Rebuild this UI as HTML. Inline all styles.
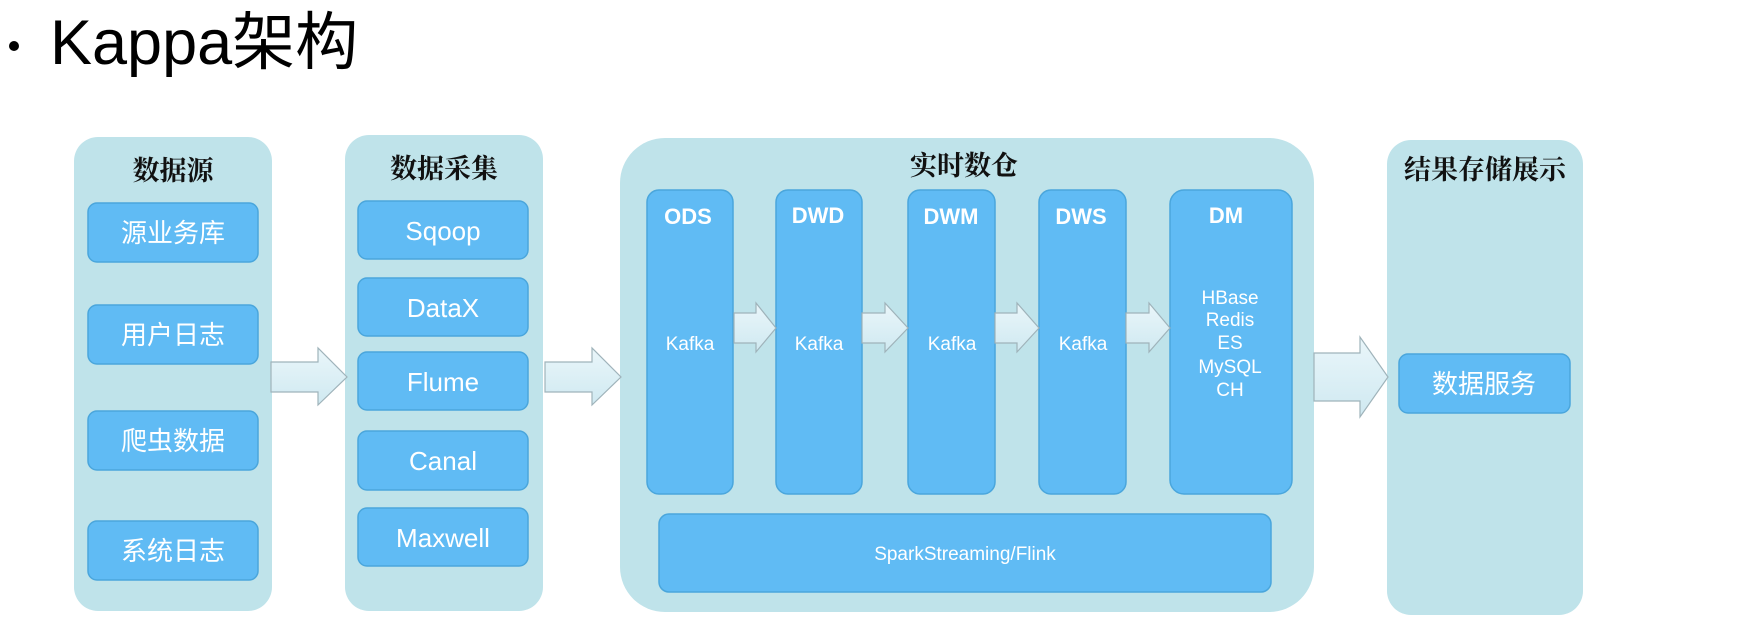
<!DOCTYPE html>
<html><head><meta charset="utf-8"><style>
html,body{margin:0;padding:0;background:#fff;width:1762px;height:624px;overflow:hidden}
svg text{font-family:"Liberation Sans","Noto Sans CJK SC",sans-serif}
.t{font-family:"Noto Serif CJK SC","Liberation Serif",serif;font-weight:bold;fill:#111}
.w{fill:#fff}
</style></head><body>
<svg width="1762" height="624" viewBox="0 0 1762 624" xmlns="http://www.w3.org/2000/svg">
<defs>
<linearGradient id="ar" x1="0" y1="0" x2="0" y2="1"><stop offset="0" stop-color="#eaf6fa"/><stop offset="1" stop-color="#cfe9f1"/></linearGradient>
</defs>
<circle cx="14" cy="46" r="5" fill="#000"/>
<text x="50" y="64" font-size="63" fill="#000">Kappa架构</text>

<rect x="74" y="137" width="198" height="474" rx="24" fill="#bfe3ea"/>
<rect x="345" y="135" width="198" height="476" rx="24" fill="#bfe3ea"/>
<rect x="620" y="138" width="694" height="474" rx="45" fill="#bfe3ea"/>
<rect x="1387" y="140" width="196" height="475" rx="24" fill="#bfe3ea"/>

<text class="t" x="173" y="180" font-size="27" text-anchor="middle">数据源</text>
<text class="t" x="444" y="178" font-size="27" text-anchor="middle">数据采集</text>
<text class="t" x="964" y="175" font-size="27" text-anchor="middle">实时数仓</text>
<text class="t" x="1485" y="179" font-size="27" text-anchor="middle">结果存储展示</text>

<g fill="#60bbf4" stroke="#4aa6dc" stroke-width="1.5">
<rect x="88" y="203" width="170" height="59" rx="9"/>
<rect x="88" y="305" width="170" height="59" rx="9"/>
<rect x="88" y="411" width="170" height="59" rx="9"/>
<rect x="88" y="521" width="170" height="59" rx="9"/>
<rect x="358" y="201" width="170" height="58" rx="9"/>
<rect x="358" y="278" width="170" height="58" rx="9"/>
<rect x="358" y="352" width="170" height="58" rx="9"/>
<rect x="358" y="431" width="170" height="59" rx="9"/>
<rect x="358" y="508" width="170" height="58" rx="9"/>
<rect x="647" y="190" width="86" height="304" rx="12"/>
<rect x="776" y="190" width="86" height="304" rx="12"/>
<rect x="908" y="190" width="87" height="304" rx="12"/>
<rect x="1039" y="190" width="87" height="304" rx="12"/>
<rect x="1170" y="190" width="122" height="304" rx="14"/>
<rect x="659" y="514" width="612" height="78" rx="10"/>
<rect x="1399" y="354" width="171" height="59" rx="9"/>
</g>

<g class="w" font-size="26" text-anchor="middle">
<text x="173" y="242">源业务库</text>
<text x="173" y="344">用户日志</text>
<text x="173" y="450">爬虫数据</text>
<text x="173" y="560">系统日志</text>
<text x="443" y="240">Sqoop</text>
<text x="443" y="317">DataX</text>
<text x="443" y="391">Flume</text>
<text x="443" y="470">Canal</text>
<text x="443" y="547">Maxwell</text>
<text x="1484" y="393">数据服务</text>
</g>
<g class="w" font-size="22" font-weight="bold" text-anchor="middle">
<text x="688" y="224">ODS</text>
<text x="818" y="223">DWD</text>
<text x="951" y="224">DWM</text>
<text x="1081" y="224">DWS</text>
<text x="1226" y="223">DM</text>
</g>
<g class="w" font-size="19" text-anchor="middle">
<text x="690" y="350">Kafka</text>
<text x="819" y="350">Kafka</text>
<text x="952" y="350">Kafka</text>
<text x="1083" y="350">Kafka</text>
<text x="1230" y="304">HBase</text>
<text x="1230" y="326">Redis</text>
<text x="1230" y="349">ES</text>
<text x="1230" y="373">MySQL</text>
<text x="1230" y="396">CH</text>
<text x="965" y="560">SparkStreaming/Flink</text>
</g>

<g fill="url(#ar)" stroke="#9fb3ba" stroke-width="1.2">
<path d="M271 362 H318 V348 L347 377 L318 405 V392 H271 Z"/>
<path d="M545 362 H592 V348 L621 377 L592 405 V392 H545 Z"/>
<path d="M1314 353 H1360 V337 L1388 377 L1360 417 V401 H1314 Z"/>
<path d="M734 313 H756 V303 L776 328 L756 352 V343 H734 Z"/>
<path d="M862 313 H885 V303 L908 328 L885 352 V343 H862 Z"/>
<path d="M995 313 H1017 V303 L1039 328 L1017 352 V343 H995 Z"/>
<path d="M1126 313 H1149 V303 L1170 328 L1149 352 V343 H1126 Z"/>
</g>
</svg>
</body></html>
